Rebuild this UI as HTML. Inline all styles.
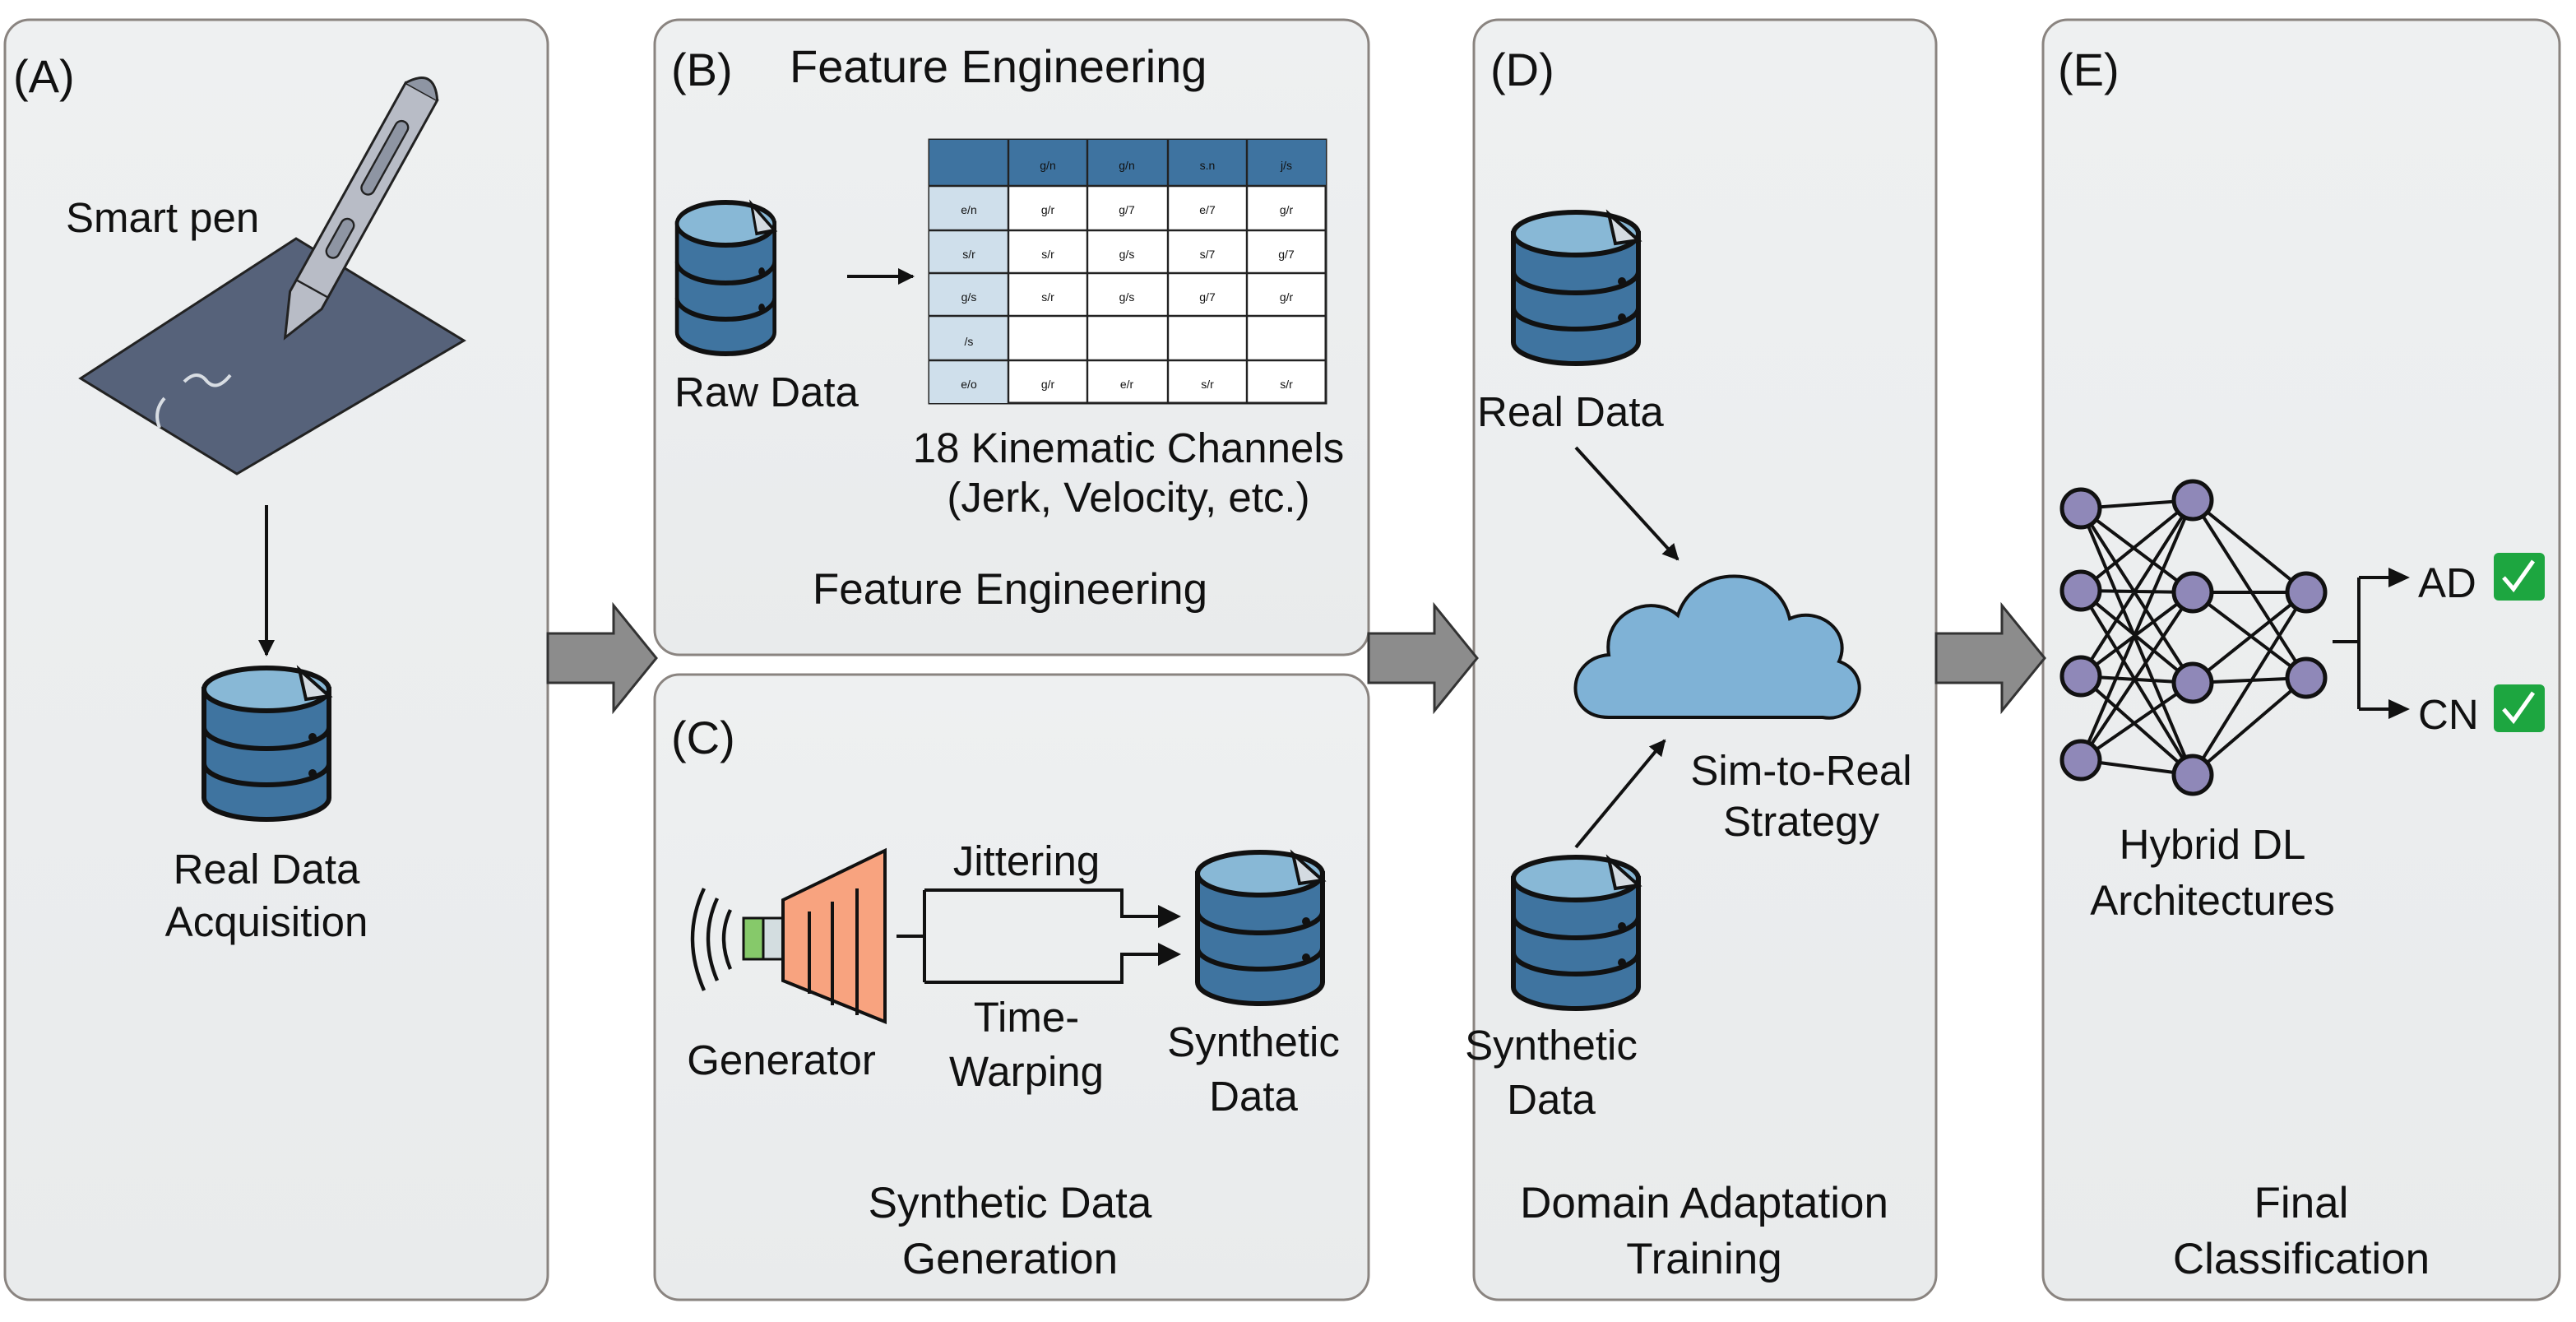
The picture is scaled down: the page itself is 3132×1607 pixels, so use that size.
<!DOCTYPE html>
<html><head><meta charset="utf-8"><style>
html,body{margin:0;padding:0;background:#fff}
svg{display:block}
text{font-family:"Liberation Sans",Arial,sans-serif;fill:#111}
</style></head><body>
<svg width="3132" height="1607" viewBox="0 0 1566 803.5" preserveAspectRatio="none" xmlns="http://www.w3.org/2000/svg">
<defs>
<linearGradient id="pg" x1="0" y1="0" x2="0" y2="1"><stop offset="0" stop-color="#eef0f1"/><stop offset="1" stop-color="#e9ebec"/></linearGradient>
<marker id="ah" markerWidth="10" markerHeight="10" refX="9" refY="5" orient="auto" markerUnits="userSpaceOnUse"><path d="M0,0 L10,5 L0,10 Z" fill="#111"/></marker>
<g id="db">
<path d="M2,14 V80 A38,13 0 0 0 78,80 V14 Z" fill="#3f74a0" stroke="#111" stroke-width="3"/>
<path d="M2,37 A38,13 0 0 0 78,37 M2,59 A38,13 0 0 0 78,59" fill="none" stroke="#111" stroke-width="3"/>
<ellipse cx="40" cy="14" rx="38" ry="13" fill="#88b8d6" stroke="#111" stroke-width="3"/>
<path d="M60,2 L78,18 L64,20 Z" fill="#d4dbe1" stroke="#111" stroke-width="2"/>
<circle cx="68" cy="43" r="2.5" fill="#111"/><circle cx="68" cy="65" r="2.5" fill="#111"/>
</g>
<g id="bigarrow"><path d="M0,385 H40 V368 L66,400 L40,432 V415 H0 Z" fill="#8c8c8c" stroke="#333" stroke-width="1.5"/></g>
</defs>
<rect width="1566" height="803.5" fill="#fff"/>
<rect x="3" y="12" width="330" height="778" rx="15" fill="url(#pg)" stroke="#8a8480" stroke-width="1.5"/>
<rect x="398" y="12" width="434" height="386" rx="15" fill="url(#pg)" stroke="#8a8480" stroke-width="1.5"/>
<rect x="398" y="410" width="434" height="380" rx="15" fill="url(#pg)" stroke="#8a8480" stroke-width="1.5"/>
<rect x="896" y="12" width="281" height="778" rx="15" fill="url(#pg)" stroke="#8a8480" stroke-width="1.5"/>
<rect x="1242" y="12" width="314" height="778" rx="15" fill="url(#pg)" stroke="#8a8480" stroke-width="1.5"/>
<use href="#bigarrow" x="333"/>
<use href="#bigarrow" x="832"/>
<use href="#bigarrow" x="1177"/>

<!-- Panel A -->
<text x="8" y="56" font-size="28">(A)</text>
<text x="40" y="141" font-size="25.5">Smart pen</text>
<polygon points="49,230 180,145 282,207 144,288" fill="#56627a" stroke="#222" stroke-width="1.5"/>
<path d="M100,242 Q93,250 97,260 M112,232 Q120,224 126,232 Q132,238 140,228" fill="none" stroke="#d8dde3" stroke-width="2"/>
<g transform="rotate(29 215 130)">
<path d="M204,45 L226,45 L226,190 L215,216 L204,190 Z" fill="#b8bcc6" stroke="#222" stroke-width="1.5"/>
<path d="M204,45 Q215,28 226,45" fill="#8e95a3" stroke="#222" stroke-width="1.5"/>
<rect x="211" y="66" width="8" height="50" rx="4" fill="#8e95a3" stroke="#222" stroke-width="1.2"/>
<rect x="211" y="134" width="8" height="26" rx="4" fill="#8e95a3" stroke="#222" stroke-width="1.2"/>
<path d="M204,182 L226,182" stroke="#222" stroke-width="1.2"/>
</g>
<line x1="162" y1="307" x2="162" y2="398" stroke="#111" stroke-width="2" marker-end="url(#ah)"/>
<use href="#db" x="122" y="405"/>
<text x="162" y="537" font-size="25.5" text-anchor="middle">Real Data</text>
<text x="162" y="569" font-size="25.5" text-anchor="middle">Acquisition</text>

<!-- Panel B -->
<text x="408" y="52" font-size="28">(B)</text>
<text x="480" y="50" font-size="28">Feature Engineering</text>
<g transform="translate(410,122) scale(0.78,1)"><use href="#db"/></g>
<line x1="515" y1="168" x2="555" y2="168" stroke="#111" stroke-width="2" marker-end="url(#ah)"/>
<text x="410" y="247" font-size="25.5">Raw Data</text>
<g>
<rect x="565" y="85" width="241" height="160" fill="#fff" stroke="#222" stroke-width="1.5"/>
<rect x="565" y="85" width="241" height="28" fill="#3e73a0"/>
<rect x="565" y="113" width="48" height="132" fill="#cfdfeb"/>
<g stroke="#222" stroke-width="1.2">
<line x1="613" y1="85" x2="613" y2="245"/><line x1="661" y1="85" x2="661" y2="245"/><line x1="710" y1="85" x2="710" y2="245"/><line x1="758" y1="85" x2="758" y2="245"/>
<line x1="565" y1="113" x2="806" y2="113"/><line x1="565" y1="140" x2="806" y2="140"/><line x1="565" y1="166" x2="806" y2="166"/><line x1="565" y1="192" x2="806" y2="192"/><line x1="565" y1="219" x2="806" y2="219"/>
</g>
<g font-size="7" fill="#555" text-anchor="middle">
<text x="637" y="103" fill="#c8d6e2">g/n</text><text x="685" y="103" fill="#c8d6e2">g/n</text><text x="734" y="103" fill="#c8d6e2">s.n</text><text x="782" y="103" fill="#c8d6e2">j/s</text>
<text x="589" y="130">e/n</text><text x="637" y="130">g/r</text><text x="685" y="130">g/7</text><text x="734" y="130">e/7</text><text x="782" y="130">g/r</text>
<text x="589" y="157">s/r</text><text x="637" y="157">s/r</text><text x="685" y="157">g/s</text><text x="734" y="157">s/7</text><text x="782" y="157">g/7</text>
<text x="589" y="183">g/s</text><text x="637" y="183">s/r</text><text x="685" y="183">g/s</text><text x="734" y="183">g/7</text><text x="782" y="183">g/r</text>
<text x="589" y="210">/s</text>
<text x="589" y="236">e/o</text><text x="637" y="236">g/r</text><text x="685" y="236">e/r</text><text x="734" y="236">s/r</text><text x="782" y="236">s/r</text>
</g>
</g>
<text x="686" y="281" font-size="25.5" text-anchor="middle">18 Kinematic Channels</text>
<text x="686" y="311" font-size="25.5" text-anchor="middle">(Jerk, Velocity, etc.)</text>
<text x="614" y="367" font-size="26.5" text-anchor="middle">Feature Engineering</text>

<!-- Panel C -->
<text x="408" y="458" font-size="28">(C)</text>
<path d="M428,540 Q414,570 428,602 M436,546 Q425,570 436,596 M444,553 Q436,570 444,589" fill="none" stroke="#111" stroke-width="2.2"/>
<rect x="452" y="558" width="12" height="25" fill="#86c96a" stroke="#111" stroke-width="1.5"/>
<rect x="464" y="558" width="12" height="25" fill="#d3dde0" stroke="#111" stroke-width="1.5"/>
<polygon points="476,547 538,517 538,621 476,596" fill="#f8a37f" stroke="#111" stroke-width="2"/>
<path d="M492,554 V604 M506,548 V611 M521,540 V617" stroke="#111" stroke-width="2"/>
<path d="M545,569 H562 M562,541 V597 M562,541 H682 V557 H713 M562,597 H682 V580 H713" fill="none" stroke="#111" stroke-width="2"/>
<path d="M704,550 L718,557 L704,564 Z M704,573 L718,580 L704,587 Z" fill="#111"/>
<use href="#db" x="726" y="517"/>
<text x="624" y="532" font-size="25.5" text-anchor="middle">Jittering</text>
<text x="624" y="627" font-size="25.5" text-anchor="middle">Time-</text>
<text x="624" y="660" font-size="25.5" text-anchor="middle">Warping</text>
<text x="475" y="653" font-size="25.5" text-anchor="middle">Generator</text>
<text x="762" y="642" font-size="25.5" text-anchor="middle">Synthetic</text>
<text x="762" y="675" font-size="25.5" text-anchor="middle">Data</text>
<text x="614" y="740" font-size="26.5" text-anchor="middle">Synthetic Data</text>
<text x="614" y="774" font-size="26.5" text-anchor="middle">Generation</text>

<!-- Panel D -->
<text x="906" y="52" font-size="28">(D)</text>
<use href="#db" x="918" y="128"/>
<text x="898" y="259" font-size="25.5">Real Data</text>
<line x1="958" y1="272" x2="1020" y2="340" stroke="#111" stroke-width="2" marker-end="url(#ah)"/>
<path d="M978,436 C950,436 952,400 978,398 C974,372 1004,360 1020,374 C1030,342 1080,342 1088,376 C1106,368 1126,384 1118,402 C1140,410 1130,440 1108,436 Z" fill="#7fb2d6" stroke="#111" stroke-width="2"/>
<line x1="958" y1="515" x2="1012" y2="450" stroke="#111" stroke-width="2" marker-end="url(#ah)"/>
<text x="1095" y="477" font-size="25.5" text-anchor="middle">Sim-to-Real</text>
<text x="1095" y="508" font-size="25.5" text-anchor="middle">Strategy</text>
<use href="#db" x="918" y="520"/>
<text x="943" y="644" font-size="25.5" text-anchor="middle">Synthetic</text>
<text x="943" y="677" font-size="25.5" text-anchor="middle">Data</text>
<text x="1036" y="740" font-size="26.5" text-anchor="middle">Domain Adaptation</text>
<text x="1036" y="774" font-size="26.5" text-anchor="middle">Training</text>

<!-- Panel E -->
<text x="1251" y="52" font-size="28">(E)</text>
<g stroke="#111" stroke-width="2">
<path d="M1265,309 L1333,304 M1265,309 L1333,360 M1265,309 L1333,415 M1265,309 L1333,471
M1265,359 L1333,304 M1265,359 L1333,360 M1265,359 L1333,415 M1265,359 L1333,471
M1265,411 L1333,304 M1265,411 L1333,360 M1265,411 L1333,415 M1265,411 L1333,471
M1265,462 L1333,304 M1265,462 L1333,360 M1265,462 L1333,415 M1265,462 L1333,471
M1333,304 L1402,360 M1333,304 L1402,412 M1333,360 L1402,360 M1333,360 L1402,412
M1333,415 L1402,360 M1333,415 L1402,412 M1333,471 L1402,360 M1333,471 L1402,412"/>
</g>
<g fill="#8f88b8" stroke="#111" stroke-width="2.5">
<circle cx="1265" cy="309" r="11.5"/><circle cx="1265" cy="359" r="11.5"/><circle cx="1265" cy="411" r="11.5"/><circle cx="1265" cy="462" r="11.5"/>
<circle cx="1333" cy="304" r="11.5"/><circle cx="1333" cy="360" r="11.5"/><circle cx="1333" cy="415" r="11.5"/><circle cx="1333" cy="471" r="11.5"/>
<circle cx="1402" cy="360" r="11.5"/><circle cx="1402" cy="412" r="11.5"/>
</g>
<path d="M1418,390 H1434 M1434,351 V431 M1434,351 H1455 M1434,431 H1455" fill="none" stroke="#111" stroke-width="2"/>
<path d="M1452,345 L1465,351 L1452,357 Z M1452,425 L1465,431 L1452,437 Z" fill="#111"/>
<text x="1470" y="363" font-size="25.5">AD</text>
<text x="1470" y="443" font-size="25.5">CN</text>
<rect x="1516" y="336" width="31" height="29" rx="3" fill="#1da640"/>
<rect x="1516" y="416" width="31" height="29" rx="3" fill="#1da640"/>
<path d="M1522,351 L1528,358 L1540,341 M1522,431 L1528,438 L1540,421" fill="none" stroke="#fff" stroke-width="2.5"/>
<text x="1345" y="522" font-size="25.5" text-anchor="middle">Hybrid DL</text>
<text x="1345" y="556" font-size="25.5" text-anchor="middle">Architectures</text>
<text x="1399" y="740" font-size="26.5" text-anchor="middle">Final</text>
<text x="1399" y="774" font-size="26.5" text-anchor="middle">Classification</text>
</svg>
</body></html>
